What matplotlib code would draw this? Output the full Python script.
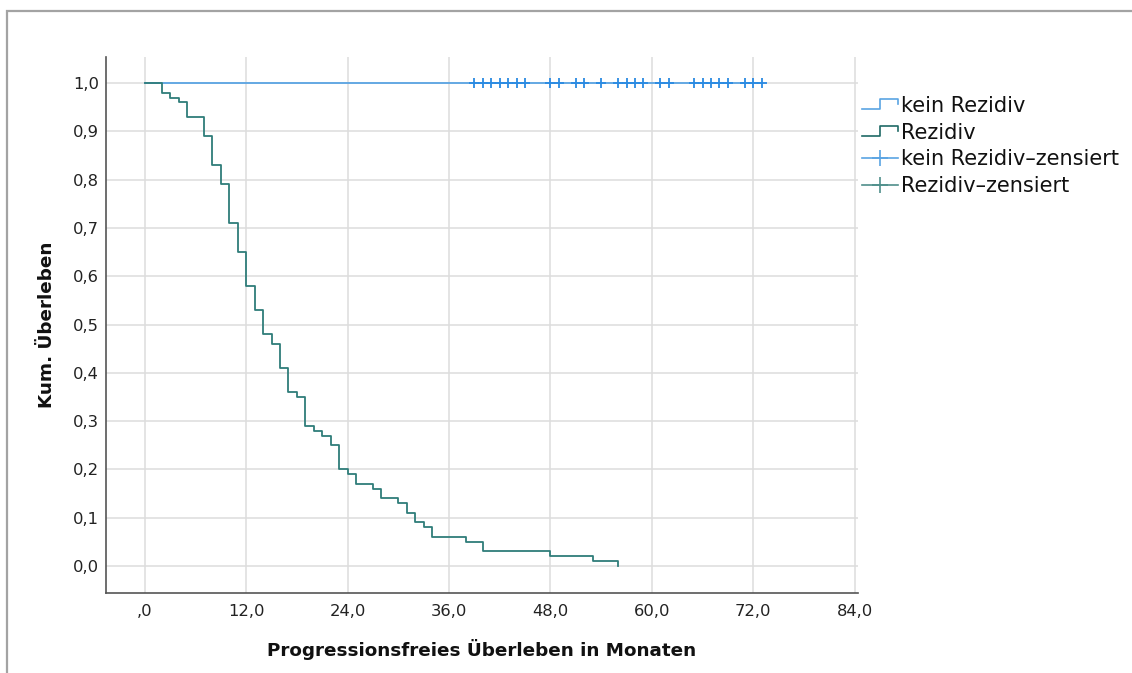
import matplotlib
matplotlib.use("Agg")
import matplotlib.pyplot as plt
from matplotlib.lines import Line2D
from matplotlib.patches import Rectangle
from matplotlib.legend_handler import HandlerBase

# Kaplan-Meier data
# Rezidiv group: step times (months) and cumulative survival
rez_time = [0, 2, 3, 4, 5, 7, 8, 9, 10, 11, 12, 13, 14, 15, 16, 17, 18, 19,
            20, 21, 22, 23, 24, 25, 27, 28, 30, 31, 32, 33, 34, 38, 40, 48, 53, 56]
rez_surv = [1.0, 0.98, 0.97, 0.96, 0.93, 0.89, 0.83, 0.79, 0.71, 0.65, 0.58,
            0.53, 0.48, 0.46, 0.41, 0.36, 0.35, 0.29, 0.28, 0.27, 0.25, 0.20,
            0.19, 0.17, 0.16, 0.14, 0.13, 0.11, 0.09, 0.08, 0.06, 0.05, 0.03,
            0.02, 0.01, 0.0]

# kein Rezidiv group: no events, survival stays at 1
kein_time = [0, 73]
kein_surv = [1.0, 1.0]
# censored observations of kein Rezidiv
kein_cens = [39, 40, 41, 42, 43, 44, 45, 48, 49, 51, 52, 54, 56, 57, 58, 59,
             61, 62, 65, 66, 67, 68, 69, 71, 72, 73]

x_ticks = [0, 12, 24, 36, 48, 60, 72, 84]
y_ticks = [0.0, 0.1, 0.2, 0.3, 0.4, 0.5, 0.6, 0.7, 0.8, 0.9, 1.0]

col_kein = "#5aa4e3"
col_kein_cens = "#2a8ae2"
col_rez = "#2f7d7a"
col_rez_leg = "#1f6a66"


# legend icon that looks like a small step
class StepHandler(HandlerBase):
    def create_artists(self, legend, orig_handle, xdescent, ydescent,
                       width, height, fontsize, trans):
        x0 = -xdescent
        y0 = -ydescent
        xs = [x0, x0 + width * 0.5, x0 + width * 0.5, x0 + width, x0 + width]
        ys = [y0 + height * 0.2, y0 + height * 0.2, y0 + height * 0.9,
              y0 + height * 0.9, y0 + height * 0.55]
        ln = Line2D(xs, ys, color=orig_handle.get_color(), lw=1.2)
        ln.set_transform(trans)
        return [ln]


plt.rcParams["font.family"] = "DejaVu Sans"
fig = plt.figure(figsize=(11.32, 6.73), dpi=100)
ax = fig.add_axes([0.0936, 0.1189, 0.6644, 0.7964])

# grey frame around the chart area
fig.patches.append(Rectangle((0.0062, -0.2), 1.2, 0.9837 + 0.2,
                             transform=fig.transFigure, fill=False,
                             edgecolor="#a3a3a3", lw=1.6))

ax.step(kein_time, kein_surv, where="post", color=col_kein, lw=1.3, zorder=3)
ax.plot(kein_cens, [1.0] * len(kein_cens), linestyle="none", marker="+",
        color=col_kein_cens, ms=7, mew=1.3, zorder=4)
ax.step(rez_time, rez_surv, where="post", color=col_rez, lw=1.3, zorder=3)

ax.set_xlim(-4.6, 84.4)
ax.set_ylim(-0.056, 1.054)
ax.set_xticks(x_ticks)
ax.set_yticks(y_ticks)
ax.set_xticklabels([("%.1f" % v).replace(".", ",") if v != 0 else ",0"
                    for v in x_ticks])
ax.set_yticklabels([("%.1f" % v).replace(".", ",") for v in y_ticks])
ax.tick_params(length=0, labelsize=11.8, colors="#222222")
ax.tick_params(axis="x", pad=8)
ax.tick_params(axis="y", pad=5)

ax.grid(True, color="#dddddd", lw=1.1)
ax.set_axisbelow(True)
for s in ["top", "right"]:
    ax.spines[s].set_visible(False)
for s in ["left", "bottom"]:
    ax.spines[s].set_color("#555555")
    ax.spines[s].set_linewidth(1.2)

ax.set_xlabel("Progressionsfreies Überleben in Monaten", fontsize=13.2,
              fontweight="bold", labelpad=14, color="#111111")
ax.set_ylabel("Kum. Überleben", fontsize=13.2, fontweight="bold",
              labelpad=12, color="#111111")

handles = [
    Line2D([], [], color=col_kein),
    Line2D([], [], color=col_rez_leg),
    Line2D([], [], color=col_kein, marker="+", ms=12, mew=1.2, lw=1.2),
    Line2D([], [], color="#4f8f8b", marker="+", ms=12, mew=1.2, lw=1.2),
]
labels = ["kein Rezidiv", "Rezidiv", "kein Rezidiv\u2013zensiert",
          "Rezidiv\u2013zensiert"]
leg = fig.legend(handles, labels, loc="upper left",
                 bbox_to_anchor=(862 / 1132, 1 - 96 / 673), frameon=False,
                 fontsize=15, handlelength=1.75, handletextpad=0.12,
                 labelspacing=0.32, borderpad=0, borderaxespad=0,
                 handler_map={handles[0]: StepHandler(),
                              handles[1]: StepHandler()})
for t in leg.get_texts():
    t.set_color("#111111")

fig.savefig("out.png", dpi=100)
